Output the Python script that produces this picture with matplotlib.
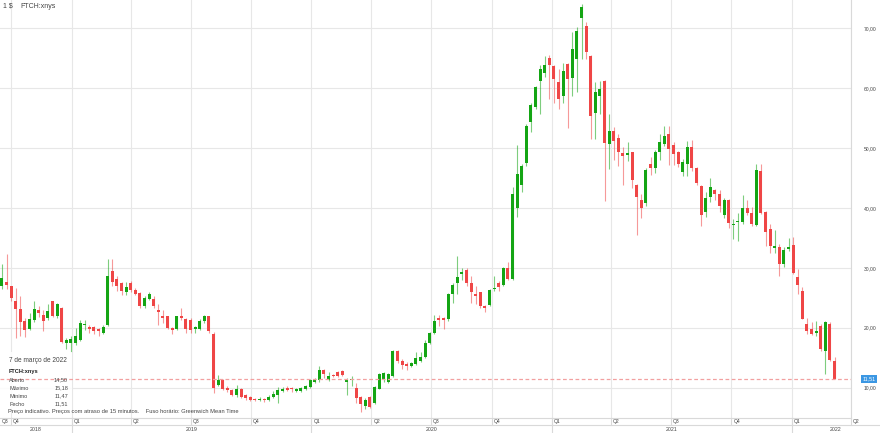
import pandas as pd
import matplotlib
matplotlib.use('Agg')
import matplotlib.pyplot as plt
from matplotlib.transforms import blended_transform_factory

# weekly candles, first week starts 17 Sep 2018, last week 7 Mar 2022
opens = [26.9, 27.7, 26.9, 24.4, 23.2, 21.2, 19.8, 21.3, 23.0, 22.2,
         21.7, 24.4, 21.9, 23.3, 17.4, 17.5, 17.5, 17.9, 20.4, 20.1,
         20.1, 19.8, 19.2, 20.4, 29.4, 28.2, 27.4, 26.0, 27.4, 26.3,
         25.8, 23.7, 24.8, 24.8, 23.0, 21.9, 21.9, 20.0, 19.8, 21.9,
         21.4, 21.3, 19.8, 19.8, 21.1, 21.9, 18.9, 10.5, 11.3, 9.95,
         9.55, 8.8, 9.7, 8.7, 8.4, 8.1, 7.9, 8.1, 8.0, 8.4,
         8.8, 9.4, 9.95, 9.9, 9.4, 9.5, 9.7, 10.1, 11.0, 11.3,
         12.9, 11.3, 12.0, 12.6, 12.8, 10.9, 11.2, 9.95, 8.5, 6.9,
         8.4, 7.4, 9.8, 11.3, 11.0, 12.0, 16.1, 14.4, 13.9, 13.6,
         14.0, 14.5, 15.2, 17.5, 19.1, 21.5, 21.5, 21.4, 25.6, 27.5,
         28.9, 29.7, 27.5, 25.6, 25.9, 23.6, 23.8, 26.4, 27.4, 27.1,
         29.9, 28.2, 40.0, 43.9, 47.5, 54.3, 56.8, 61.2, 62.6, 65.0,
         63.7, 61.0, 58.6, 64.0, 61.6, 64.8, 71.7, 70.4, 65.4, 55.9,
         58.7, 61.1, 50.6, 52.9, 51.6, 49.2, 48.8, 49.3, 43.8, 41.4,
         40.8, 47.3, 46.7, 49.3, 50.6, 52.3, 50.5, 49.3, 46.0, 47.3,
         50.2, 46.6, 43.7, 39.3, 41.9, 43.0, 42.4, 38.9, 41.3, 37.1,
         37.6, 37.6, 40.0, 39.1, 37.1, 46.1, 39.3, 36.5, 33.3, 33.4,
         30.7, 33.2, 33.8, 28.4, 26.1, 20.7, 19.8, 19.1, 20.3, 16.1,
         20.7, 14.50]
highs = [30.6, 32.3, 27.0, 26.7, 25.3, 21.6, 22.5, 24.5, 23.6, 23.0,
         24.0, 24.5, 24.2, 23.4, 18.3, 18.6, 20.0, 21.3, 21.3, 20.5,
         20.3, 20.0, 20.4, 31.4, 31.4, 28.6, 27.6, 27.7, 27.8, 26.7,
         26.0, 25.3, 25.9, 25.3, 23.9, 23.0, 21.9, 20.2, 22.0, 23.3,
         21.6, 21.7, 20.3, 21.4, 22.1, 22.0, 19.3, 12.1, 11.5, 10.2,
         9.8, 10.4, 9.9, 8.9, 8.6, 8.3, 8.4, 8.2, 8.7, 9.4,
         10.1, 10.1, 10.2, 10.1, 9.9, 10.1, 10.5, 11.5, 11.6, 13.6,
         13.2, 12.7, 12.2, 12.8, 12.9, 11.6, 11.9, 10.8, 8.6, 8.2,
         8.6, 10.3, 12.5, 12.7, 12.5, 16.3, 16.3, 14.8, 14.3, 14.3,
         16.0, 16.0, 18.0, 19.3, 22.2, 22.2, 21.8, 25.8, 27.5, 31.9,
         30.0, 30.0, 28.6, 26.9, 26.0, 23.8, 26.5, 28.6, 27.8, 30.1,
         31.0, 43.5, 50.5, 47.3, 54.0, 57.5, 60.4, 63.8, 65.3, 65.5,
         63.9, 63.2, 64.2, 64.2, 69.3, 70.2, 74.0, 71.0, 65.6, 61.0,
         61.1, 61.3, 55.7, 53.5, 52.3, 50.1, 51.0, 49.4, 44.0, 42.3,
         46.6, 48.5, 49.6, 52.3, 53.7, 53.7, 51.0, 49.5, 48.2, 51.2,
         51.4, 46.8, 43.9, 42.6, 45.0, 43.2, 43.0, 41.7, 41.5, 38.2,
         39.2, 42.2, 41.4, 40.2, 47.3, 47.3, 39.5, 37.3, 36.3, 33.9,
         33.4, 35.0, 35.1, 29.8, 26.8, 21.7, 21.0, 21.1, 20.6, 21.1,
         20.9, 15.18]
lows = [26.5, 26.4, 24.5, 18.3, 18.6, 18.4, 19.6, 21.0, 21.8, 19.4,
        21.3, 21.8, 21.7, 17.5, 16.5, 16.0, 17.2, 17.8, 19.6, 19.2,
        19.0, 18.6, 19.0, 20.3, 26.9, 26.2, 25.5, 25.5, 26.0, 25.4,
        23.3, 23.3, 24.6, 23.3, 20.5, 20.8, 19.8, 19.0, 19.6, 21.3,
        19.2, 19.2, 19.2, 19.6, 20.8, 19.2, 9.1, 10.3, 9.6, 9.3,
        8.6, 8.5, 8.3, 8.0, 7.8, 7.7, 7.7, 7.6, 7.8, 8.3,
        7.5, 9.3, 9.4, 9.3, 9.2, 9.3, 9.6, 9.9, 10.8, 11.0,
        11.6, 11.1, 11.7, 11.7, 11.9, 8.8, 10.2, 7.5, 6.0, 6.5,
        6.6, 7.2, 9.7, 11.0, 10.8, 11.8, 14.2, 13.2, 13.0, 13.4,
        13.8, 14.3, 15.0, 17.3, 19.0, 20.3, 19.8, 21.2, 24.2, 25.6,
        28.0, 27.0, 24.2, 24.0, 23.3, 22.7, 23.6, 26.1, 26.2, 27.0,
        27.9, 28.0, 38.5, 42.6, 47.0, 52.6, 56.5, 55.7, 61.8, 58.2,
        57.5, 56.5, 57.5, 53.4, 58.7, 59.3, 64.8, 64.8, 51.5, 51.5,
        55.7, 41.2, 46.5, 48.0, 47.0, 43.8, 47.9, 43.4, 35.4, 38.4,
        40.3, 45.5, 45.9, 48.0, 50.4, 47.2, 47.2, 46.9, 45.4, 45.4,
        46.2, 43.9, 36.9, 38.5, 41.0, 41.4, 39.4, 38.4, 36.7, 34.8,
        34.4, 37.4, 38.9, 36.9, 37.0, 39.0, 33.6, 32.5, 32.4, 28.6,
        30.2, 32.8, 28.9, 25.6, 21.4, 19.0, 18.8, 18.7, 16.1, 12.3,
        14.5, 11.47]
closes = [28.3, 27.1, 25.0, 23.2, 21.0, 19.7, 21.4, 23.2, 22.5, 21.1,
          22.8, 21.9, 23.9, 17.7, 18.0, 18.1, 18.6, 20.8, 20.6, 19.8,
          19.4, 19.4, 20.1, 28.7, 27.6, 26.9, 26.1, 26.8, 26.3, 25.6,
          23.7, 25.0, 25.6, 23.7, 22.6, 21.7, 20.0, 19.7, 21.9, 21.7,
          19.8, 19.7, 20.0, 21.1, 21.9, 19.4, 10.0, 11.3, 9.8, 9.55,
          8.8, 9.8, 8.5, 8.2, 8.0, 7.9, 8.1, 7.9, 8.5, 9.0,
          9.55, 9.8, 9.55, 9.7, 9.7, 9.9, 10.3, 11.3, 11.4, 13.0,
          12.2, 12.0, 11.9, 11.9, 12.1, 11.3, 11.4, 8.3, 7.2, 8.0,
          6.8, 10.1, 12.2, 12.5, 12.2, 16.1, 14.4, 13.8, 13.7, 14.1,
          15.0, 15.2, 17.5, 19.1, 21.1, 21.3, 21.3, 25.6, 27.1, 28.5,
          29.3, 27.4, 25.9, 25.3, 23.7, 23.3, 26.3, 26.6, 26.8, 29.9,
          28.1, 42.4, 45.6, 47.0, 53.7, 57.2, 60.1, 63.2, 63.8, 63.8,
          61.5, 58.2, 62.9, 61.5, 66.5, 69.6, 73.5, 66.0, 55.4, 59.4,
          59.8, 50.9, 52.9, 51.1, 49.4, 48.6, 49.1, 44.7, 41.9, 40.0,
          46.3, 46.7, 49.3, 51.0, 52.0, 49.9, 49.0, 47.3, 47.7, 50.1,
          46.6, 44.2, 38.8, 41.7, 43.5, 42.3, 40.4, 41.3, 37.5, 37.4,
          37.9, 40.0, 39.1, 37.3, 46.3, 39.2, 36.0, 33.7, 33.6, 30.7,
          32.9, 33.5, 29.2, 27.2, 21.5, 19.4, 19.0, 19.4, 16.4, 20.9,
          14.6, 11.51]

dates = pd.date_range('2018-09-17', periods=len(opens), freq='7D')
y_ticks = [10, 20, 30, 40, 50, 60, 70]
quarter_starts = pd.date_range('2018-10-01', '2022-04-01', freq='QS')
year_starts = pd.to_datetime(['2019-01-01', '2020-01-01', '2021-01-01', '2022-01-01'])
year_labels = ['2018', '2019', '2020', '2021', '2022']
last_date_label = '7 de março de 2022'
info_rows = [('Aberto', '14,50'), ('Máximo', '15,18'), ('Mínimo', '11,47'), ('Fecho', '11,51')]
last_price = 11.51

# colours
green = '#14a514'
red = '#ef4646'
grid_color = '#e7e7e7'
line_color = '#d9d9d9'
text_color = '#444444'

plt.rcParams['font.family'] = ['Liberation Sans', 'DejaVu Sans']

fig = plt.figure(figsize=(8.8, 4.33), dpi=100)
ax = fig.add_axes([0, 15 / 433, 851 / 880, 418 / 433])

x_left = pd.Timestamp('2018-09-14')
x_right = pd.Timestamp('2022-04-01')
ax.set_xlim(x_left, x_right)
ax.set_ylim(4.94, 74.7)

# grid
for v in y_ticks:
    ax.axhline(v, color=grid_color, lw=0.8, zorder=0)
for d in quarter_starts:
    ax.axvline(d, color=grid_color, lw=0.8, zorder=0)

# candles
width = pd.Timedelta(days=4.6)
for d, o, h, l, c in zip(dates, opens, highs, lows, closes):
    col = green if c >= o else red
    ax.vlines(d, l, h, color=col, lw=0.8, alpha=0.55, zorder=2)
    bottom = min(o, c)
    height = max(abs(c - o), 0.25)
    ax.bar(d, height, bottom=bottom, width=width, color=col, lw=0, zorder=3)

# last price line
ax.axhline(last_price, color='#f2a0a0', lw=0.9, ls=(0, (3, 2)), zorder=5)

# spines
for s in ['top', 'left']:
    ax.spines[s].set_visible(False)
for s in ['right', 'bottom']:
    ax.spines[s].set_color(line_color)
    ax.spines[s].set_linewidth(0.8)

# y axis on the right
ax.yaxis.tick_right()
ax.set_yticks(y_ticks)
ax.set_yticklabels(['%d,00' % v for v in y_ticks])
ax.tick_params(axis='y', length=0, pad=9, labelsize=3.6, labelcolor=text_color)
ax.set_xticks([])

# price tag
tr = blended_transform_factory(ax.transAxes, ax.transData)
ax.text(1.0135, last_price, '11,51', transform=tr, ha='left', va='center',
        fontsize=3.8, color='white', clip_on=False,
        bbox=dict(boxstyle='square,pad=0.3', fc='#3b97e3', ec='none'))

# quarter and year rows
xt = ax.get_xaxis_transform()
row_q = -7 / 418
row_y = -15 / 418
ax.plot([x_left, x_right + pd.Timedelta(days=50)], [row_q, row_q], transform=xt,
        color=line_color, lw=0.8, clip_on=False)
for d in quarter_starts:
    ax.plot([d, d], [0, row_q], transform=xt, color=line_color, lw=0.8, clip_on=False)
for d in year_starts:
    ax.plot([d, d], [0, row_y], transform=xt, color=line_color, lw=0.8, clip_on=False)
ax.text(x_left + pd.Timedelta(days=2), -3.5 / 418, 'Q3', transform=xt, ha='left', va='center',
        fontsize=3.6, color=text_color)
for d in quarter_starts:
    ax.text(d + pd.Timedelta(days=3), -3.5 / 418, 'Q%d' % d.quarter, transform=xt, ha='left',
            va='center', fontsize=3.6, color=text_color, clip_on=False)
year_bounds = [x_left] + list(year_starts) + [x_right + pd.Timedelta(days=44)]
for lab, a, b in zip(year_labels, year_bounds[:-1], year_bounds[1:]):
    ax.text(a + (b - a) / 2, -11.5 / 418, lab, transform=xt, ha='center', va='center',
            fontsize=3.8, color=text_color, clip_on=False)

# header
fig.text(3 / 880, 1 - 6 / 433, '1 $', fontsize=5, color=text_color, va='center')
fig.text(20 / 880, 1 - 6 / 433, 'FTCH:xnys', fontsize=5, color=text_color, va='center')

# info box
ax.add_patch(plt.Rectangle((0, 1 - 410 / 418), 72 / 851, 58 / 418, transform=ax.transAxes,
                           fc='white', ec='none', alpha=0.85, zorder=4))
fig.text(9 / 880, 1 - 360 / 433, last_date_label, fontsize=4.7, color=text_color, va='center')
fig.text(9 / 880, 1 - 372 / 433, 'FTCH:xnys', fontsize=4.1, color='#222222',
         fontweight='bold', va='center')
for k, (name, val) in enumerate(info_rows):
    yy = 1 - (380 + 8 * k) / 433
    fig.text(9 / 880, yy, name, fontsize=4.0, color=text_color, va='center')
    fig.text(68 / 880, yy, val, fontsize=4.0, color=text_color, va='center', ha='right')
fig.text(8 / 880, 1 - 412 / 433,
         'Preço indicativo. Preços com atraso de 15 minutos.    Fuso horário: Greenwich Mean Time',
         fontsize=4.15, color=text_color, va='center')

fig.savefig('out.png', dpi=100)
